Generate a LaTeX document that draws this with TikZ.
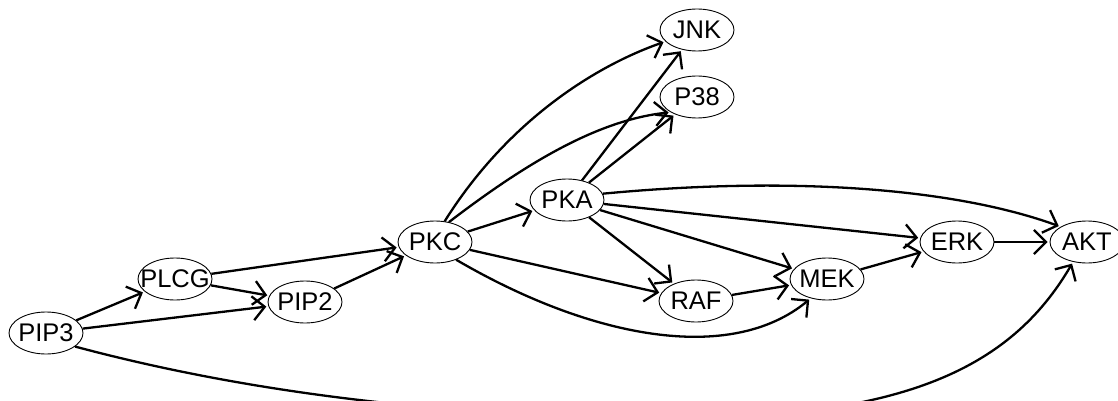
\documentclass[tikz,border=0pt]{standalone}
\usepackage{fontspec}
\setmainfont{Liberation Sans}
\usetikzlibrary{shapes.geometric,arrows.meta}
\newcommand{\lbl}[1]{\makebox[0pt]{#1}}
\begin{document}
\begin{tikzpicture}[x=1pt,y=-1pt,
  nd/.style={ellipse,draw,line width=0.9pt,minimum width=74pt,minimum height=42pt,inner sep=0pt,font=\fontsize{25.5}{25.5}\selectfont},
  ed/.style={line width=2.3pt,-{Straight Barb[length=12pt,width=24pt,line width=2.3pt]},shorten >=2pt}]
\useasboundingbox (0,0) rectangle (1118,401);
\node[nd] (PIP3) at (46,333) {\lbl{PIP3}};
\node[nd] (PLCG) at (175,279) {\lbl{PLCG}};
\node[nd] (PIP2) at (305,302) {\lbl{PIP2}};
\node[nd] (PKC) at (435,242) {\lbl{PKC}};
\node[nd] (PKA) at (567,200) {\lbl{PKA}};
\node[nd] (JNK) at (697,30) {\lbl{JNK}};
\node[nd] (P38) at (697,97) {\lbl{P38}};
\node[nd] (RAF) at (696,301) {\lbl{RAF}};
\node[nd] (MEK) at (827,279) {\lbl{MEK}};
\node[nd] (ERK) at (957,242) {\lbl{ERK}};
\node[nd] (AKT) at (1087,242) {\lbl{AKT}};

\draw[ed] (PIP3) -- (PLCG);
\draw[ed] (PIP3) -- (PIP2);
\draw[ed] (PIP3.-25) .. controls (230,388) and (420,416) .. (660,418) .. controls (900,420) and (1010,370) .. (AKT.-125);
\draw[ed] (PLCG) -- (PIP2);
\draw[ed] (PLCG) -- (PKC);
\draw[ed] (PIP2) -- (PKC);
\draw[ed] (PKC) -- (PKA);
\draw[ed] (PKC.65) .. controls (505,125) and (590,68) .. (JNK.-160);
\draw[ed] (PKC.55) .. controls (530,160) and (600,120) .. (P38.-150);
\draw[ed] (PKC) -- (RAF);
\draw[ed] (PKC.-40) .. controls (590,338) and (730,365) .. (MEK.-130);
\draw[ed] (PKA) -- (JNK);
\draw[ed] (PKA) -- (P38);
\draw[ed] (PKA) -- (RAF);
\draw[ed] (PKA) -- (MEK);
\draw[ed] (PKA) -- (ERK);
\draw[ed] (PKA.10) .. controls (800,175) and (960,190) .. (AKT.150);
\draw[ed] (RAF) -- (MEK);
\draw[ed] (MEK) -- (ERK);
\draw[ed] (ERK) -- (AKT);
\end{tikzpicture}
\end{document}
